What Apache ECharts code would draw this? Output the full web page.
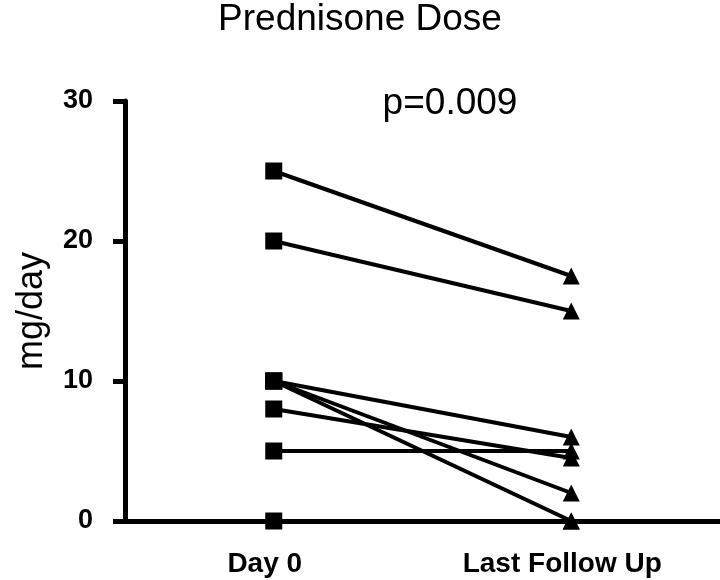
<!DOCTYPE html>
<html>
<head>
<meta charset="utf-8">
<script src="https://cdn.jsdelivr.net/npm/echarts@6/dist/echarts.min.js"></script>
<style>html,body{margin:0;padding:0;background:#fff;}#c{width:720px;height:580px;}</style>
</head>
<body>
<div id="c"></div>
<script>
const categories = ['Day 0', 'Last Follow Up'];
const day0 = [25, 20, 10, 8, 5, 10, 10, 0];
const lastFollowUp = [17.5, 15, 6, 4.5, 5, 2, 0, 0];
const yTicks = [0, 10, 20, 30];
const titleText = 'Prednisone Dose';
const pText = 'p=0.009';
const yName = 'mg/day';

const chart = echarts.init(document.getElementById('c'));
const series = day0.map((v, i) => ({
  type: 'line',
  data: [
    { value: [categories[0], v], symbol: 'rect' },
    { value: [categories[1], lastFollowUp[i]], symbol: 'triangle' }
  ],
  symbolSize: 17,
  lineStyle: { color: '#000', width: 4 },
  itemStyle: { color: '#000' },
  z: 3,
  animation: false
}));

chart.setOption({
  animation: false,
  title: [
    { text: titleText, left: 'center', top: -4,
      textStyle: { fontFamily: 'Liberation Sans', fontWeight: 'normal', fontSize: 37, color: '#000' } },
    { text: pText, left: 445, top: 80, textAlign: 'center',
      textStyle: { fontFamily: 'Liberation Sans', fontWeight: 'normal', fontSize: 37, color: '#000' } }
  ],
  grid: { left: 125, right: 0, top: 101, bottom: 59, containLabel: false, outerBoundsMode: 'none' },
  xAxis: {
    type: 'category', data: categories, boundaryGap: true,
    axisLine: { lineStyle: { color: '#000', width: 5 } },
    axisTick: { show: false },
    axisLabel: { color: '#000', fontFamily: 'Liberation Sans', fontWeight: 'bold', fontSize: 28, margin: 29,
      padding: [0, 18, 0, 0] }
  },
  yAxis: {
    type: 'value', min: 0, max: 30, interval: 10,
    name: yName, nameLocation: 'middle', nameGap: 75, nameRotate: 90,
    nameTextStyle: { fontFamily: 'Liberation Sans', fontSize: 36, color: '#000' },
    splitLine: { show: false },
    axisLine: { show: true, lineStyle: { color: '#000', width: 5 } },
    axisTick: { show: true, length: 12, lineStyle: { color: '#000', width: 5 } },
    axisLabel: { color: '#000', fontFamily: 'Liberation Sans', fontWeight: 'bold', fontSize: 27, margin: 32,
      formatter: v => yTicks.includes(v) ? String(v) : '' }
  },
  series: series
});
</script>
</body>
</html>
